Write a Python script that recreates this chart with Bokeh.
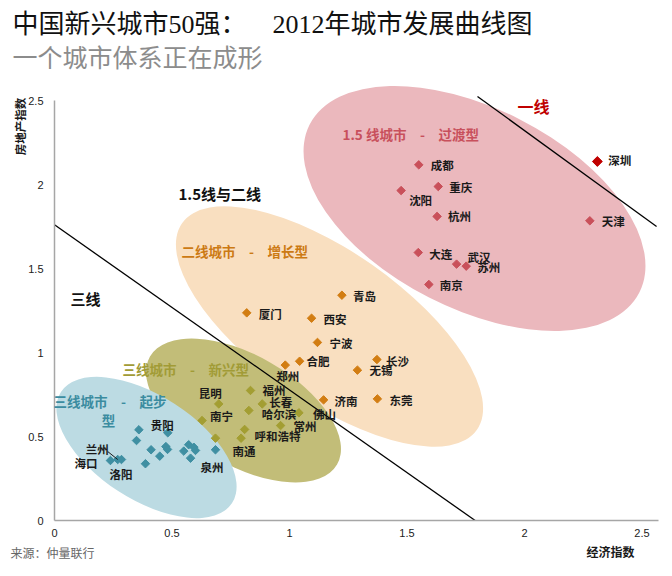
import math
from bokeh.plotting import figure
from bokeh.models import ColumnDataSource, Label, FixedTicker, Range1d
from bokeh.core.properties import value
from bokeh.embed import file_html
from bokeh.resources import INLINE

# ---------------- data ----------------
tick_values = [0, 0.5, 1, 1.5, 2, 2.5]
tick_labels = ["0", "0.5", "1", "1.5", "2", "2.5"]

tier1_names = ["深圳"]
tier1_x = [2.31]
tier1_y = [2.137]

tier15_names = ["天津", "成都", "重庆", "沈阳", "杭州", "大连", "武汉", "苏州", "南京"]
tier15_x = [2.278, 1.55, 1.633, 1.475, 1.628, 1.548, 1.711, 1.752, 1.593]
tier15_y = [1.784, 2.117, 1.988, 1.964, 1.81, 1.595, 1.526, 1.514, 1.405]

tier2_names = ["青岛", "厦门", "西安", "宁波", "合肥", "郑州", "长沙", "无锡", "济南", "东莞"]
tier2_x = [1.223, 0.818, 1.094, 1.119, 1.043, 0.982, 1.372, 1.289, 1.145, 1.374]
tier2_y = [1.341, 1.236, 1.204, 1.060, 0.948, 0.925, 0.958, 0.895, 0.718, 0.724]

tier3e_names = ["福州", "长春", "昆明", "哈尔滨", "佛山", "常州", "南宁", "呼和浩特", "", "南通"]
tier3e_x = [0.834, 0.884, 0.699, 0.827, 1.040, 0.962, 0.628, 0.809, 0.794, 0.685]
tier3e_y = [0.774, 0.694, 0.694, 0.655, 0.641, 0.565, 0.595, 0.542, 0.490, 0.490]

tier3s_names = ["海口", "兰州", "洛阳", "", "贵阳", "", "", "", "", "", "", "", "", "", "", "", "泉州"]
tier3s_x = [0.238, 0.269, 0.285, 0.359, 0.482, 0.349, 0.411, 0.474, 0.481, 0.448, 0.387,
            0.571, 0.593, 0.600, 0.550, 0.579, 0.685]
tier3s_y = [0.357, 0.363, 0.363, 0.540, 0.522, 0.476, 0.421, 0.440, 0.423, 0.383, 0.338,
            0.451, 0.436, 0.417, 0.413, 0.371, 0.421]

# boundary lines between tiers
line3_x = [0.0, 1.79]
line3_y = [1.76, 0.0]
line1_x = [1.80, 2.562]
line1_y = [2.524, 1.75]

x_axis_end = 2.57
y_axis_end = 2.5

# ---------------- styling / layout ----------------
W, H = 668, 572
OX, OY = 54, 520          # canvas pixel of data origin
SX, SY = 235.0, 168.0     # pixels per data unit


def X(px):   # canvas pixel -> data x
    return (px - OX) / SX


def Y(py):   # canvas pixel -> data y
    return (OY - py) / SY


CJK = "Noto Sans CJK SC"
SP = "\u3000"

p = figure(width=W, height=H, output_backend="svg", toolbar_location=None,
           x_range=Range1d(X(0), X(W)), y_range=Range1d(Y(H), Y(0)),
           min_border=0, min_border_left=0, min_border_right=0,
           min_border_top=0, min_border_bottom=0)
p.outline_line_color = None
p.grid.visible = False
p.background_fill_color = "white"
p.border_fill_color = "white"

for ax, end in ((p.xaxis[0], x_axis_end), (p.yaxis[0], y_axis_end)):
    ax.fixed_location = 0
    ax.bounds = (0, end)
    ax.ticker = FixedTicker(ticks=tick_values)
    ax.major_label_overrides = {v: s for v, s in zip(tick_values, tick_labels)}
    ax.axis_line_color = "#a6a6a6"
    ax.axis_line_width = 1.5
    ax.major_tick_line_color = None
    ax.major_tick_out = 0
    ax.major_tick_in = 0
    ax.minor_tick_line_color = None
    ax.major_label_text_font = "'Liberation Sans Narrow', 'Liberation Sans', sans-serif"
    ax.major_label_text_font_size = "11px"
    ax.major_label_text_color = "#222222"
p.xaxis[0].major_label_standoff = 8
p.yaxis[0].major_label_standoff = 11

# ellipses: (center x px, center y px, semi-major px, semi-minor px, angle deg, colour)
ells = [
    (329, 326, 180, 75, -35, "#f9dfc0"),
    (474, 208, 185, 100, -27, "#ebb8bd"),
    (243, 410, 108, 55, -30, "#c2bd78"),
    (146, 447, 102, 52, -33, "#bcdbe3"),
]
for cx, cy, a, b, ang, col in ells:
    p.ellipse(x=X(cx), y=Y(cy), width=2 * a / SX, height=2 * b / SY, angle=math.radians(ang),
              fill_color=col, line_color=None)

p.line(line3_x, line3_y, line_color="black", line_width=1.3)
p.line(line1_x, line1_y, line_color="black", line_width=1.3)

groups = [
    (tier15_names, tier15_x, tier15_y, "#c9505a",
     [(12, 0), (12, 0), (11, 0), (8, 9), (11, 0), (11, 1), (11, -7), (11, 1), (11, 1)]),
    (tier1_names, tier1_x, tier1_y, "#c00000", [(11, -1)]),
    (tier2_names, tier2_x, tier2_y, "#d27d12",
     [(11, 1), (12, 1), (12, 1), (12, 1), (7, 0), (-9, 11), (9, 1), (12, 0), (11, 1), (12, 1)]),
    (tier3e_names, tier3e_x, tier3e_y, "#a39e32",
     [(12, 0), (7, -2), (-20, -11), (13, 4), (14, 1), (13, 0), (8, -5), (10, 7), (0, 0), (17, 13)]),
    (tier3s_names, tier3s_x, tier3s_y, "#3f8fa2",
     [(-36, 2), (-32, -11), (-12, 14), (0, 0), (-17, -8)] + [(0, 0)] * 11 + [(-15, 17)]),
]
for names, xs, ys, col, offs in groups:
    src = ColumnDataSource(dict(x=xs, y=ys, name=names,
                                dx=[o[0] for o in offs], dy=[o[1] for o in offs]))
    size = 7 if col == "#c00000" else 6
    p.scatter(x="x", y="y", source=src, marker="square", angle=math.pi / 4, size=size,
              fill_color=col, line_color=col)
    p.text(x="x", y="y", text="name", source=src, x_offset="dx", y_offset="dy",
           text_font=value(CJK), text_font_style="bold", text_font_size="11.5px",
           text_color="#1a1a1a", text_baseline="middle", text_align="left")

# short leader line from the 兰州 label to its marker
p.segment(x0=[tier3s_x[1] - 10 / SX], y0=[tier3s_y[1] + 8 / SY],
          x1=[tier3s_x[1]], y1=[tier3s_y[1]], line_color="#1a1a1a", line_width=1)


def lab(px, py, text, size, color, bold=False, align="left", angle=0.0, font=CJK):
    p.add_layout(Label(x=X(px), y=Y(py), text=text, text_font=font, text_font_size=size,
                       text_color=color, text_font_style="bold" if bold else "normal",
                       text_align=align, text_baseline="middle", angle=angle))


# cluster annotations
lab(533, 105, "一线", "16px", "#c00000", True, "center")
lab(342, 133, "1.5 线城市" + SP + "-" + SP + "过渡型", "13.5px", "#c8505c", True)
lab(178, 193, "1.5线与二线", "15px", "#111111", True)
lab(181, 250, "二线城市" + SP + "-" + SP + "增长型", "13.5px", "#cc7a14", True)
lab(70, 298, "三线", "15px", "#111111", True)
lab(122, 368, "三线城市" + SP + "-" + SP + "新兴型", "13.5px", "#a19b36", True)
lab(53, 400, "三线城市" + SP + "-" + SP + "起步", "13.5px", "#3b8ca0", True)
lab(108, 419, "型", "13.5px", "#3b8ca0", True, "center")

# titles and axis captions
lab(12, 24, "中国新兴城市50强：" + SP + "\u2002" + "2012年城市发展曲线图", "26px", "#111111", False,
    font="'Liberation Serif', 'Noto Sans CJK SC'")
lab(12, 55, "一个城市体系正在成形", "25px", "#8c8c8c")
lab(19, 126, "房地产指数", "11.5px", "#1a1a1a", True, "center", math.pi / 2)
lab(634, 551, "经济指数", "12px", "#1a1a1a", True, "right")
lab(10, 552, "来源：仲量联行", "12px", "#666666")

open("out.html", "w").write(file_html(p, INLINE))
